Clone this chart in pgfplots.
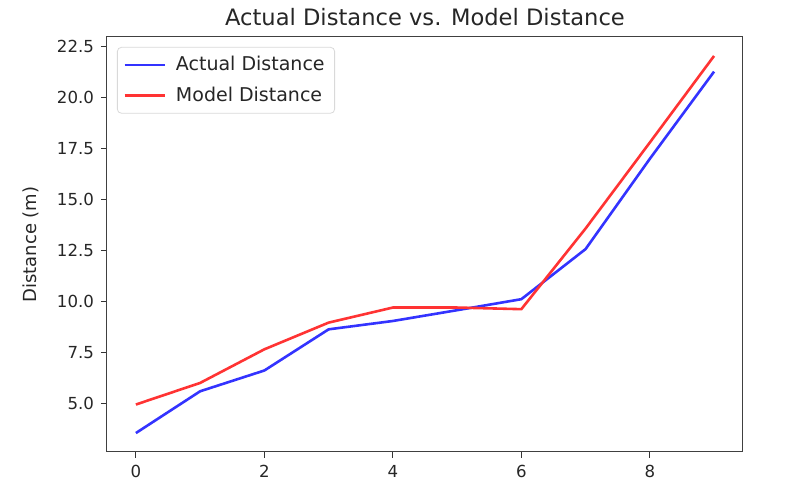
\documentclass[border=0pt]{standalone}
\usepackage{pgfplots}
\pgfplotsset{compat=1.18}
\usepackage{fontspec}
\setmainfont{DejaVu Sans}
\definecolor{lblue}{rgb}{0.2,0.2,1}
\definecolor{lred}{rgb}{1,0.2,0.2}
\begin{document}
\begin{tikzpicture}
\useasboundingbox (-53.5pt,-19pt) rectangle (346.5pt,226pt);
\begin{axis}[
  scale only axis,
  width=318pt, height=207.5pt,
  xmin=-0.45, xmax=9.45,
  ymin=2.61, ymax=22.98,
  xtick={0,2,4,6,8},
  ytick={5,7.5,10,12.5,15,17.5,20,22.5},
  yticklabel style={/pgf/number format/.cd,fixed,fixed zerofill,precision=1},
  /pgf/number format/assume math mode=true,
  ticklabel style={font=\fontsize{8.3}{9.5}\selectfont, text=black!85},
  tick align=outside,
  major tick length=3pt,
  tick style={black!80, line width=0.5pt},
  xtick pos=bottom, ytick pos=left,
  axis line style={black!75, line width=0.5pt},
  title={Actual Distance vs. Model Distance},
  title style={font=\fontsize{11.3}{13}\selectfont, text=black!85, yshift=-4pt},
  ylabel={Distance (m)},
  ylabel style={font=\fontsize{9}{10}\selectfont, text=black!85, yshift=2pt},
  legend style={at={(rel axis cs:0.0157,0.976)}, anchor=north west,
    draw=black!15, rounded corners=2pt, font=\fontsize{9.5}{11}\selectfont,
    text=black!85, row sep=2.5pt, inner xsep=3pt, inner ysep=2.5pt},
  legend cell align=left,
  legend image code/.code={\draw[#1] (0pt,0pt) -- (20pt,0pt); \path (23pt,0pt);},
]
\addplot[lblue, line width=1.3pt] coordinates {
 (0,3.54) (1,5.59) (2,6.61) (3,8.63) (4,9.04) (5,9.57) (6,10.11) (7,12.57) (8,17.0) (9,21.28)};
\addlegendentry{Actual Distance}
\addplot[lred, line width=1.3pt] coordinates {
 (0,4.94) (1,6.0) (2,7.65) (3,8.96) (4,9.70) (5,9.70) (6,9.62) (7,13.58) (8,17.8) (9,22.05)};
\addlegendentry{Model Distance}
\end{axis}
\end{tikzpicture}
\end{document}
